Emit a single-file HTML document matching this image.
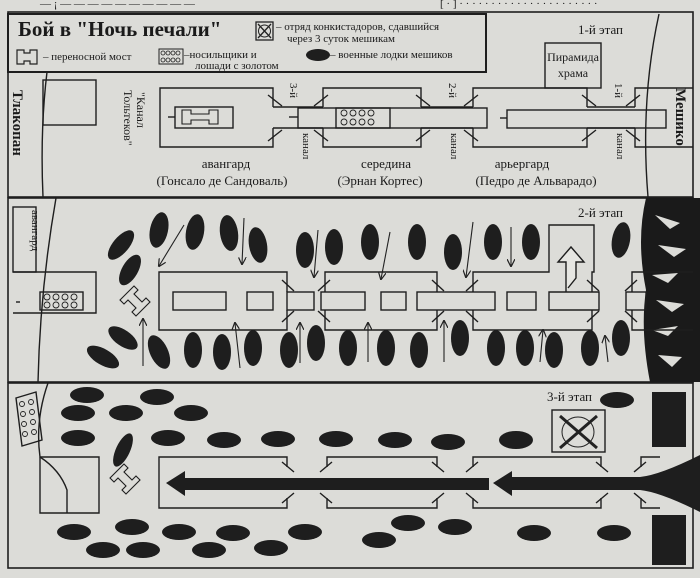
<!DOCTYPE html>
<html><head><meta charset="utf-8"><style>
html,body{margin:0;padding:0;background:#dcdcd8;}
svg{display:block}
text{font-family:"Liberation Serif","DejaVu Serif",serif;fill:#1a1a1a}
</style></head><body>
<svg width="700" height="578" viewBox="0 0 700 578" xmlns="http://www.w3.org/2000/svg">
<defs>
<marker id="ah" markerWidth="8" markerHeight="8" refX="7" refY="4" orient="auto" markerUnits="userSpaceOnUse"><path d="M0,0 L8,4 L0,8" fill="none" stroke="#222" stroke-width="1.2"/></marker>
</defs>
<rect width="700" height="578" fill="#dcdcd8"/>
<text x="40" y="7" font-size="11" fill="#555">— ¡ — — — — — — — — — —</text>
<text x="440" y="7" font-size="11" fill="#444">[ · ] · · · · · · · · · · · · · · · · · · · · · ·</text>
<g fill="none" stroke="#1e1e1e" stroke-width="1.6">
<!-- panel frames -->
<rect x="8" y="12" width="685" height="185"/>
<rect x="8" y="198" width="685" height="184"/>
<rect x="8" y="383" width="685" height="185"/>
<rect x="8" y="14" width="478" height="58" stroke-width="2"/>
</g>
<!-- Legend -->
<text x="18" y="36" font-size="21" font-weight="bold">Бой в "Ночь печали"</text>
<rect x="256" y="22" width="17" height="18" fill="none" stroke="#222" stroke-width="1.3"/>
<path d="M258,24 L271,38 M271,24 L258,38" stroke="#222" stroke-width="1.3"/>
<circle cx="264.5" cy="31" r="6" fill="none" stroke="#222"/>
<text x="276" y="30" font-size="11">– отряд конкистадоров, сдавшийся</text>
<text x="287" y="42" font-size="11">через 3 суток мешикам</text>
<path d="M17,50 h7 v3 h6 v-3 h7 v14 h-7 v-3 h-6 v3 h-7 z" fill="none" stroke="#222" stroke-width="1.2"/>
<text x="43" y="60" font-size="11">– переносной мост</text>
<rect x="159" y="49" width="24" height="15" fill="none" stroke="#222"/>
<g fill="none" stroke="#222" stroke-width="0.8"><circle cx="163" cy="53" r="2"/><circle cx="168" cy="53" r="2"/><circle cx="173" cy="53" r="2"/><circle cx="178" cy="53" r="2"/><circle cx="163" cy="60" r="2"/><circle cx="168" cy="60" r="2"/><circle cx="173" cy="60" r="2"/><circle cx="178" cy="60" r="2"/></g>
<text x="184" y="58" font-size="11">–носильщики и</text>
<text x="195" y="69" font-size="11">лошади с золотом</text>
<ellipse cx="318" cy="55" rx="12" ry="6" fill="#1e1e1e"/>
<text x="330" y="58" font-size="11">– военные лодки мешиков</text>
<text x="578" y="34" font-size="13">1-й этап</text>

<!-- Panel 1 -->
<g fill="none" stroke="#1e1e1e" stroke-width="1.4">
<path d="M47,72 Q40,130 43,197"/>
<path d="M659,14 Q640,100 648,197"/>
<rect x="43" y="80" width="53" height="45"/>
<rect x="545" y="43" width="56" height="45"/>
<!-- causeway -->
<path d="M273,107 V88 H160 V147 H273 V128"/>
<path d="M323,107 V88 H421 V107 M323,128 V147 H421 V128"/>
<path d="M473,107 V88 H587 V107 M473,128 V147 H587 V128"/>
<path d="M693,88 H635 V107 M693,147 H635 V128"/>
<path d="M273,107 H323 M273,128 H323 M421,107 H473 M421,128 H473 M587,107 H635 M587,128 H635"/>
<path d="M268,95 L282,106 M328,95 L314,106 M268,141 L282,130 M328,141 L314,130"/>
<path d="M416,95 L430,106 M478,95 L464,106 M416,141 L430,130 M478,141 L464,130"/>
<path d="M582,95 L596,106 M640,95 L626,106 M582,141 L596,130 M640,141 L626,130"/>
<rect x="175" y="107" width="58" height="21"/>
<path d="M168,117 H175"/>
<path d="M182,110 h9 v4 h18 v-4 h9 v14 h-9 v-4 h-18 v4 h-9 z" stroke-width="1.1"/>
<rect x="298" y="108" width="189" height="20"/>
<path d="M289,117 H298"/>
<rect x="336" y="108" width="54" height="20"/>
<rect x="507" y="110" width="159" height="18"/>
<path d="M500,118 H507"/>
</g>
<g fill="none" stroke="#222" stroke-width="0.9">
<circle cx="344" cy="113" r="3"/><circle cx="353" cy="113" r="3"/><circle cx="362" cy="113" r="3"/><circle cx="371" cy="113" r="3"/>
<circle cx="344" cy="122" r="3"/><circle cx="353" cy="122" r="3"/><circle cx="362" cy="122" r="3"/><circle cx="371" cy="122" r="3"/>
</g>
<text x="573" y="61" font-size="12" text-anchor="middle">Пирамида</text>
<text x="573" y="77" font-size="12" text-anchor="middle">храма</text>
<text transform="translate(13,90) rotate(90)" font-size="15" font-weight="bold">Тлакопан</text>
<text transform="translate(137,92) rotate(90)" font-size="12">"Канал</text>
<text transform="translate(124,90) rotate(90)" font-size="12">Тольтеков"</text>
<text transform="translate(290,83) rotate(90)" font-size="11">3-й</text>
<text transform="translate(303,133) rotate(90)" font-size="11">канал</text>
<text transform="translate(449,83) rotate(90)" font-size="11">2-й</text>
<text transform="translate(451,133) rotate(90)" font-size="11">канал</text>
<text transform="translate(615,83) rotate(90)" font-size="11">1-й</text>
<text transform="translate(617,133) rotate(90)" font-size="11">канал</text>
<text transform="translate(676,88) rotate(90)" font-size="15" font-weight="bold">Мешико</text>
<text x="226" y="168" font-size="13" text-anchor="middle">авангард</text>
<text x="222" y="185" font-size="13" text-anchor="middle">(Гонсало де Сандоваль)</text>
<text x="386" y="168" font-size="13" text-anchor="middle">середина</text>
<text x="380" y="185" font-size="13" text-anchor="middle">(Эрнан Кортес)</text>
<text x="522" y="168" font-size="13" text-anchor="middle">арьергард</text>
<text x="536" y="185" font-size="13" text-anchor="middle">(Педро де Альварадо)</text>

<!-- Panel 2 -->
<path d="M646,198 L700,198 L700,382 L650,382 Q640,330 646,290 Q636,240 646,198 Z" fill="#1a1a1a"/>
<g fill="#dcdcd8"><path d="M655,215 l25,8 l-10,6 z"/><path d="M658,245 l28,4 l-12,8 z"/><path d="M652,275 l26,-2 l-10,10 z"/><path d="M656,300 l28,4 l-12,8 z"/><path d="M652,330 l26,-4 l-10,10 z"/><path d="M658,355 l24,2 l-10,10 z"/></g>
<g fill="none" stroke="#1e1e1e" stroke-width="1.4">
<path d="M56,198 Q40,290 38,382"/>
<rect x="13" y="207" width="23" height="65"/>
<path d="M13,272 H96 V313 H13"/>
<rect x="40" y="292" width="43" height="18"/>
<path d="M16,302 H20"/>
<path d="M287,292 V272 H159 V330 H287 V310"/>
<path d="M325,292 V272 H437 V292 M325,310 V330 H437 V310"/>
<path d="M473,292 V272 H549 V225 H594 V272 H592 V292 M473,310 V330 H592 V310"/>
<path d="M693,272 H632 V292 M693,330 H632 V310"/>
<path d="M282,280 L294,291 M330,280 L318,291 M282,322 L294,311 M330,322 L318,311"/>
<path d="M432,280 L444,291 M478,280 L466,291 M432,322 L444,311 M478,322 L466,311"/>
<path d="M587,280 L599,291 M637,280 L625,291 M587,322 L599,311 M637,322 L625,311"/>
<rect x="173" y="292" width="53" height="18"/>
<rect x="247" y="292" width="26" height="18"/>
<rect x="287" y="292" width="27" height="18"/>
<rect x="321" y="292" width="44" height="18"/>
<rect x="381" y="292" width="25" height="18"/>
<rect x="417" y="292" width="78" height="18"/>
<rect x="507" y="292" width="29" height="18"/>
<path d="M549,292 H599 V310 H549 Z"/>
<rect x="626" y="292" width="20" height="18"/>
<path d="M120,300 l14,-14 l4,4 l-4,4 l8,8 l4,-4 l4,4 l-14,14 l-4,-4 l4,-4 l-8,-8 l-4,4 z" stroke-width="1.1"/>
<path d="M566,292 V262 h-8 l13,-15 l13,15 h-8 V278 l-8,10" fill="#e6e6e2"/>
</g>
<g stroke="#222" stroke-width="1.1" marker-end="url(#ah)">
<path d="M184,225 L159,266"/><path d="M244,218 L242,264"/><path d="M318,230 L314,277"/><path d="M390,232 L381,279"/><path d="M473,222 L466,277"/><path d="M511,227 L511,266"/>
<path d="M143,366 L143,319"/><path d="M240,368 L235,323"/><path d="M300,363 L300,323"/><path d="M368,362 L368,323"/><path d="M444,362 L444,321"/><path d="M540,362 L543,330"/><path d="M608,362 L605,336"/>
</g>
<g fill="#1e1e1e">
<ellipse cx="121" cy="245" rx="8" ry="18" transform="rotate(40 121 245)"/>
<ellipse cx="130" cy="270" rx="8" ry="17" transform="rotate(30 130 270)"/>
<ellipse cx="159" cy="230" rx="9" ry="18" transform="rotate(12 159 230)"/>
<ellipse cx="195" cy="232" rx="9" ry="18" transform="rotate(10 195 232)"/>
<ellipse cx="229" cy="233" rx="9" ry="18" transform="rotate(-8 229 233)"/>
<ellipse cx="258" cy="245" rx="9" ry="18" transform="rotate(-10 258 245)"/>
<ellipse cx="305" cy="250" rx="9" ry="18"/>
<ellipse cx="334" cy="247" rx="9" ry="18"/>
<ellipse cx="370" cy="242" rx="9" ry="18"/>
<ellipse cx="417" cy="242" rx="9" ry="18"/>
<ellipse cx="453" cy="252" rx="9" ry="18"/>
<ellipse cx="493" cy="242" rx="9" ry="18"/>
<ellipse cx="531" cy="242" rx="9" ry="18"/>
<ellipse cx="621" cy="240" rx="9" ry="18" transform="rotate(10 621 240)"/>
<ellipse cx="103" cy="357" rx="8" ry="18" transform="rotate(-60 103 357)"/>
<ellipse cx="123" cy="338" rx="8" ry="17" transform="rotate(-55 123 338)"/>
<ellipse cx="159" cy="352" rx="9" ry="18" transform="rotate(-25 159 352)"/>
<ellipse cx="193" cy="350" rx="9" ry="18"/>
<ellipse cx="222" cy="352" rx="9" ry="18"/>
<ellipse cx="253" cy="348" rx="9" ry="18"/>
<ellipse cx="289" cy="350" rx="9" ry="18"/>
<ellipse cx="316" cy="343" rx="9" ry="18"/>
<ellipse cx="348" cy="348" rx="9" ry="18"/>
<ellipse cx="386" cy="348" rx="9" ry="18"/>
<ellipse cx="419" cy="350" rx="9" ry="18"/>
<ellipse cx="460" cy="338" rx="9" ry="18"/>
<ellipse cx="496" cy="348" rx="9" ry="18"/>
<ellipse cx="525" cy="348" rx="9" ry="18"/>
<ellipse cx="554" cy="350" rx="9" ry="18"/>
<ellipse cx="590" cy="348" rx="9" ry="18"/>
<ellipse cx="621" cy="338" rx="9" ry="18"/>
</g>
<text transform="translate(32,210) rotate(90)" font-size="11">авангард</text>
<text x="578" y="217" font-size="13">2-й этап</text>
<g fill="none" stroke="#222" stroke-width="0.9">
<circle cx="47" cy="297" r="3"/><circle cx="56" cy="297" r="3"/><circle cx="65" cy="297" r="3"/><circle cx="74" cy="297" r="3"/>
<circle cx="47" cy="305" r="3"/><circle cx="56" cy="305" r="3"/><circle cx="65" cy="305" r="3"/><circle cx="74" cy="305" r="3"/>
</g>

<!-- Panel 3 -->
<g fill="none" stroke="#1e1e1e" stroke-width="1.4">
<path d="M48,383 Q35,420 40,457 Q60,470 67,490 L67,513"/>
<path d="M40,457 V513 H99 V457 H40"/>
<path d="M287,467 V457 H159 V508 H287 V498"/>
<path d="M327,467 V457 H437 V467 M327,498 V508 H437 V498"/>
<path d="M473,467 V457 H601 V467 M473,498 V508 H601 V498"/>
<path d="M641,467 V457 H660 M641,498 V508 H660"/>
<path d="M282,462 L294,472 M332,462 L320,472 M282,503 L294,493 M332,503 L320,493"/>
<path d="M432,462 L444,472 M478,462 L466,472 M432,503 L444,493 M478,503 L466,493"/>
<path d="M596,462 L608,472 M646,462 L634,472 M596,503 L608,493 M646,503 L634,493"/>
<rect x="552" y="410" width="53" height="42"/>
<path d="M110,478 l14,-14 l4,4 l-4,4 l8,8 l4,-4 l4,4 l-14,14 l-4,-4 l4,-4 l-8,-8 l-4,4 z" stroke-width="1.1"/>
<path d="M16,398 L36,392 L42,440 L22,446 Z"/>
</g>
<g fill="none" stroke="#222" stroke-width="0.9">
<circle cx="22" cy="404" r="2.5"/><circle cx="31" cy="402" r="2.5"/><circle cx="23" cy="414" r="2.5"/><circle cx="32" cy="412" r="2.5"/><circle cx="24" cy="424" r="2.5"/><circle cx="33" cy="422" r="2.5"/><circle cx="25" cy="434" r="2.5"/><circle cx="34" cy="432" r="2.5"/>
</g>
<path d="M560,416 L597,448 M597,416 L560,448" stroke="#222" stroke-width="3"/>
<ellipse cx="578" cy="432" rx="16" ry="15" fill="none" stroke="#222" stroke-width="1"/>
<path d="M166,483 L185,471 V478 H489 V490 H185 V496 Z" fill="#1e1e1e"/>
<path d="M493,483 L512,471 V477 H640 Q660,475 700,455 V512 Q660,492 640,490 H512 V496 Z" fill="#1e1e1e"/>
<path d="M652,392 H686 V447 H652 Z M652,515 H686 V565 H652 Z" fill="#1e1e1e"/>
<text x="547" y="401" font-size="13">3-й этап</text>
<g fill="#1e1e1e">
<ellipse cx="87" cy="395" rx="17" ry="8"/><ellipse cx="157" cy="397" rx="17" ry="8"/>
<ellipse cx="78" cy="413" rx="17" ry="8"/><ellipse cx="126" cy="413" rx="17" ry="8"/><ellipse cx="191" cy="413" rx="17" ry="8"/>
<ellipse cx="78" cy="438" rx="17" ry="8"/><ellipse cx="168" cy="438" rx="17" ry="8"/><ellipse cx="224" cy="440" rx="17" ry="8"/><ellipse cx="278" cy="439" rx="17" ry="8"/><ellipse cx="336" cy="439" rx="17" ry="8"/><ellipse cx="395" cy="440" rx="17" ry="8"/><ellipse cx="448" cy="442" rx="17" ry="8"/><ellipse cx="516" cy="440" rx="17" ry="9"/><ellipse cx="617" cy="400" rx="17" ry="8"/>
<ellipse cx="123" cy="450" rx="7" ry="18" transform="rotate(25 123 450)"/>
<ellipse cx="74" cy="532" rx="17" ry="8"/><ellipse cx="132" cy="527" rx="17" ry="8"/><ellipse cx="179" cy="532" rx="17" ry="8"/><ellipse cx="233" cy="533" rx="17" ry="8"/><ellipse cx="305" cy="532" rx="17" ry="8"/><ellipse cx="408" cy="523" rx="17" ry="8"/><ellipse cx="455" cy="527" rx="17" ry="8"/><ellipse cx="379" cy="540" rx="17" ry="8"/><ellipse cx="103" cy="550" rx="17" ry="8"/><ellipse cx="143" cy="550" rx="17" ry="8"/><ellipse cx="209" cy="550" rx="17" ry="8"/><ellipse cx="271" cy="548" rx="17" ry="8"/><ellipse cx="534" cy="533" rx="17" ry="8"/><ellipse cx="614" cy="533" rx="17" ry="8"/>
</g>
</svg>
</body></html>
